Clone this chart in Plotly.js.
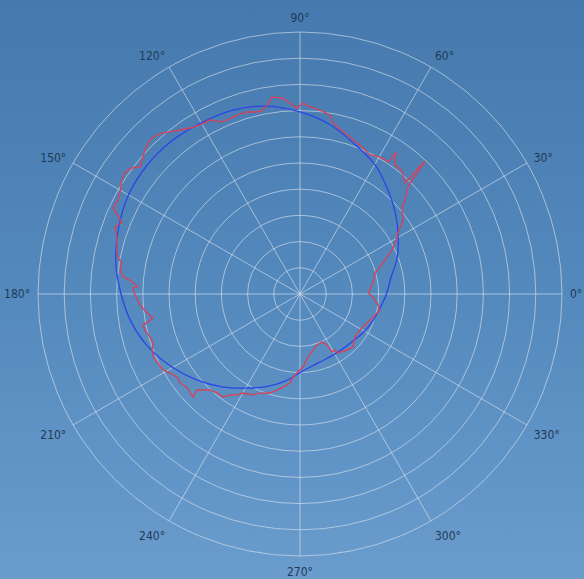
<!DOCTYPE html>
<html>
<head>
<meta charset="utf-8">
<script src="https://cdn.plot.ly/plotly-3.0.1.min.js"></script>
<style>
html,body{margin:0;padding:0;width:584px;height:579px;overflow:hidden;
background:linear-gradient(to bottom,#4679ad 0%,#5489bd 50%,#6a9ccd 100%);}
#chart{width:584px;height:579px;}
</style>
</head>
<body>
<div id="chart"></div>
<script>
// Fitted (smooth) curve
var blueTheta = [0,10,20,30,40,50,60,70,80,90,100,110,120,130,140,150,160,170,180,190,200,210,220,230,240,250,260,270,280,290,300,310,320,330,340,350,360];
var blueR = [3.30,3.52,3.94,4.33,4.76,5.21,5.71,6.09,6.57,6.95,7.28,7.47,7.54,7.62,7.63,7.56,7.37,7.14,6.83,6.51,6.10,5.61,5.12,4.63,4.15,3.76,3.39,3.00,2.78,2.68,2.65,2.66,2.72,2.84,2.97,3.10,3.30];

var redTheta = [0.8,8.6,15.6,18.6,23.0,25.6,28.2,31.9,35.7,40.5,41.8,44.2,44.7,46.8,46.6,48.9,50.3,52.3,53.6,55.9,56.3,57.6,59.7,63.3,66.7,69.3,72.3,75.1,79.1,80.5,83.8,86.9,89.1,90.9,93.0,95.2,98.1,99.9,101.4,103.3,106.2,109.4,112.8,115.0,117.3,120.6,123.5,126.2,128.7,130.6,132.0,134.2,137.1,138.9,141.6,143.1,145.1,147.4,150.7,153.3,155.3,158.0,160.1,162.7,166.5,168.8,170.1,172.4,174.5,175.3,177.5,177.9,180.3,183.9,187.1,189.3,190.4,191.2,193.1,196.0,198.4,200.7,203.2,205.9,209.0,211.3,214.0,216.6,219.5,223.9,223.0,224.7,226.8,230.0,233.2,235.3,238.0,240.1,245.0,248.0,253.1,256.5,259.6,263.6,265.2,268.5,272.4,277.2,283.1,288.4,294.6,297.9,298.9,302.0,302.8,310.0,315.0,322.0,329.0,336.6,342.5,348.7,353.3,357.6,360.8];
var redR = [2.60,2.82,2.97,3.22,3.61,3.89,4.12,4.41,4.84,5.12,5.38,5.70,5.75,6.97,5.83,5.98,6.10,6.12,6.11,6.54,6.05,6.06,6.05,5.94,6.07,6.16,6.29,6.40,6.65,6.93,7.06,7.15,7.29,7.10,7.30,7.51,7.59,7.32,7.16,7.14,7.24,7.24,7.20,7.24,7.48,7.50,7.60,7.76,7.93,8.09,8.16,8.21,8.08,7.95,7.80,8.02,8.14,8.07,7.88,7.82,7.86,7.33,7.51,7.32,7.18,7.08,6.90,6.93,6.79,6.51,6.19,6.38,6.30,6.12,5.88,5.69,5.90,6.11,6.07,5.96,5.91,6.04,6.10,6.03,5.98,5.81,5.66,5.70,5.59,5.67,5.37,5.21,5.02,4.93,4.91,4.69,4.54,4.36,4.25,4.08,3.95,3.77,3.61,3.42,3.18,2.98,2.79,2.42,2.19,2.05,2.02,2.20,2.53,2.52,2.68,2.79,2.86,2.66,2.67,2.79,2.92,3.11,2.96,2.79,2.60];

var radialMax = 10;
var gridColor = 'rgba(225,230,238,0.6)';

var traces = [
  {type:'scatterpolar', mode:'lines', r:blueR, theta:blueTheta,
   line:{color:'#2b45e6', width:1.3, shape:'spline'}, hoverinfo:'skip'},
  {type:'scatterpolar', mode:'lines', r:redR, theta:redTheta,
   line:{color:'#d5435a', width:1.4}, hoverinfo:'skip'}
];

var layout = {
  width:584, height:579,
  margin:{l:38, r:22, t:32, b:23},
  paper_bgcolor:'rgba(0,0,0,0)',
  showlegend:false,
  polar:{
    bgcolor:'rgba(0,0,0,0)',
    domain:{x:[0,1], y:[0,1]},
    radialaxis:{range:[0,radialMax], dtick:1, showticklabels:false, ticks:'',
      showline:false, gridcolor:gridColor, gridwidth:1},
    angularaxis:{dtick:30, rotation:0, direction:'counterclockwise',
      ticks:'outside', ticklen:5, tickcolor:'rgba(0,0,0,0)',
      showline:true, linecolor:gridColor, linewidth:1,
      gridcolor:gridColor, gridwidth:1,
      tickfont:{family:'DejaVu Sans Condensed, Liberation Sans Narrow, DejaVu Sans, sans-serif', size:12, color:'#223a56'}}
  }
};

Plotly.newPlot('chart', traces, layout, {displayModeBar:false, staticPlot:true});
</script>
</body>
</html>
